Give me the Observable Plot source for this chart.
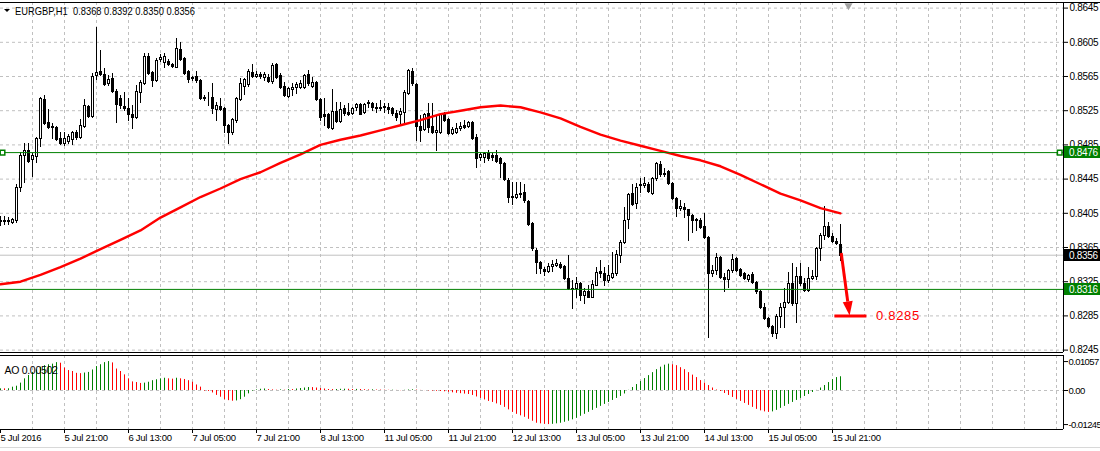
<!DOCTYPE html>
<html><head><meta charset="utf-8">
<script src="https://cdn.jsdelivr.net/npm/d3@7"></script>
<script src="https://cdn.jsdelivr.net/npm/@observablehq/plot@0.6"></script>
<style>
html,body{margin:0;padding:0;background:#fff;}
#wrap{position:relative;width:1100px;height:451px;overflow:hidden;background:#fff;}
#main{position:absolute;left:0;top:0;}
#ao{position:absolute;left:0;top:353px;}
#edge{position:absolute;left:0;top:447px;width:1100px;height:1px;background:#d8d8d8;}
svg text{letter-spacing:-0.3px;}
</style></head><body><div id="wrap"><div id="main"></div><div id="ao"></div><div id="edge"></div></div>
<script>
// ---- EURGBP H1 candles (bar index 0 = 5 Jul 2016 05:00) ----
const open = [.8395,.8397,.8395,.8394,.8397,.8435,.8473,.8479,.8468,.8471,.8493,.8538,.8511,.8506,.8505,.8493,.8487,.8489,.8491,.8500,
.8494,.8507,.8530,.8518,.8566,.8571,.8567,.8557,.8563,.8547,.8539,.8530,.8528,.8521,.8517,.8546,.8557,.8588,.8570,.8560,
.8585,.8581,.8582,.8579,.8576,.8597,.8586,.8571,.8564,.8565,.8560,.8540,.8540,.8540,.8526,.8530,.8528,.8508,.8499,.8514,
.8538,.8553,.8556,.8570,.8565,.8567,.8564,.8564,.8559,.8579,.8566,.8553,.8542,.8550,.8552,.8552,.8552,.8567,.8553,.8558,
.8538,.8521,.8521,.8504,.8524,.8512,.8528,.8523,.8522,.8529,.8532,.8523,.8533,.8533,.8528,.8529,.8530,.8529,.8528,.8522,
.8521,.8523,.8545,.8571,.8556,.8507,.8503,.8522,.8507,.8500,.8500,.8521,.8515,.8498,.8500,.8504,.8508,.8507,.8511,.8494,
.8470,.8470,.8475,.8473,.8473,.8469,.8463,.8443,.8425,.8424,.8427,.8429,.8419,.8393,.8362,.8348,.8339,.8337,.8343,.8344,
.8345,.8343,.8329,.8317,.8317,.8323,.8309,.8313,.8307,.8321,.8337,.8335,.8326,.8330,.8335,.8356,.8371,.8398,.8428,.8416,
.8437,.8437,.8439,.8428,.8446,.8462,.8452,.8454,.8440,.8422,.8411,.8412,.8409,.8403,.8398,.8397,.8390,.8377,.8335,.8338,
.8353,.8330,.8328,.8338,.8352,.8339,.8335,.8328,.8334,.8324,.8313,.8295,.8282,.8273,.8264,.8284,.8295,.8301,.8323,.8299,
.8331,.8323,.8315,.8329,.8331,.8364,.8379,.8390,.8378,.8372,.8368];
const high = [.8401,.8401,.8400,.8399,.8439,.8476,.8487,.8487,.8475,.8494,.8540,.8543,.8526,.8510,.8506,.8500,.8500,.8497,.8501,.8502,
.8515,.8538,.8531,.8568,.8622,.8595,.8574,.8566,.8568,.8550,.8543,.8546,.8539,.8531,.8554,.8560,.8592,.8592,.8571,.8586,
.8591,.8592,.8585,.8580,.8609,.8605,.8587,.8572,.8565,.8571,.8561,.8543,.8546,.8557,.8535,.8539,.8529,.8509,.8516,.8540,
.8563,.8563,.8573,.8579,.8571,.8570,.8570,.8567,.8580,.8580,.8568,.8558,.8552,.8557,.8558,.8560,.8567,.8572,.8564,.8559,
.8539,.8539,.8522,.8550,.8535,.8535,.8531,.8533,.8529,.8533,.8533,.8533,.8537,.8535,.8533,.8537,.8533,.8533,.8529,.8525,
.8528,.8549,.8573,.8574,.8557,.8519,.8522,.8533,.8533,.8519,.8522,.8523,.8516,.8505,.8510,.8511,.8514,.8512,.8512,.8497,
.8475,.8476,.8478,.8475,.8478,.8470,.8464,.8446,.8441,.8441,.8441,.8439,.8420,.8394,.8364,.8349,.8342,.8346,.8350,.8351,
.8348,.8344,.8356,.8326,.8330,.8324,.8317,.8321,.8326,.8342,.8350,.8342,.8344,.8359,.8362,.8373,.8412,.8428,.8439,.8440,
.8446,.8447,.8441,.8447,.8464,.8466,.8457,.8455,.8441,.8424,.8420,.8416,.8410,.8404,.8399,.8399,.8405,.8378,.8344,.8358,
.8354,.8335,.8339,.8357,.8353,.8341,.8336,.8334,.8336,.8325,.8315,.8299,.8283,.8274,.8287,.8299,.8317,.8336,.8346,.8342,
.8346,.8329,.8342,.8338,.8365,.8381,.8413,.8394,.8381,.8376,.8392];
const low = [.8391,.8392,.8392,.8393,.8394,.8430,.8441,.8464,.8448,.8464,.8483,.8509,.8504,.8493,.8490,.8486,.8484,.8487,.8486,.8491,
.8493,.8505,.8517,.8517,.8561,.8566,.8554,.8554,.8546,.8511,.8528,.8525,.8514,.8504,.8516,.8535,.8556,.8567,.8553,.8559,
.8582,.8576,.8578,.8576,.8575,.8584,.8567,.8558,.8560,.8558,.8538,.8537,.8531,.8522,.8514,.8525,.8500,.8487,.8497,.8511,
.8537,.8544,.8553,.8564,.8564,.8563,.8560,.8558,.8557,.8563,.8551,.8542,.8541,.8543,.8545,.8551,.8551,.8554,.8552,.8537,
.8514,.8508,.8504,.8503,.8511,.8511,.8519,.8519,.8521,.8525,.8520,.8522,.8529,.8525,.8523,.8525,.8523,.8522,.8519,.8514,
.8510,.8511,.8544,.8554,.8490,.8489,.8502,.8500,.8498,.8478,.8498,.8512,.8497,.8497,.8498,.8502,.8504,.8505,.8491,.8459,
.8467,.8464,.8467,.8467,.8464,.8447,.8443,.8418,.8415,.8422,.8424,.8418,.8391,.8362,.8335,.8335,.8332,.8336,.8337,.8343,
.8341,.8328,.8316,.8294,.8307,.8303,.8299,.8306,.8306,.8320,.8330,.8321,.8324,.8329,.8332,.8348,.8370,.8387,.8414,.8411,
.8429,.8435,.8429,.8427,.8443,.8448,.8448,.8439,.8421,.8401,.8408,.8400,.8373,.8383,.8385,.8387,.8376,.8260,.8331,.8334,
.8329,.8313,.8318,.8336,.8337,.8331,.8328,.8325,.8323,.8311,.8294,.8281,.8271,.8261,.8259,.8271,.8271,.8299,.8297,.8277,
.8321,.8313,.8314,.8327,.8327,.8350,.8374,.8377,.8371,.8369,.8350];
const close = [.8397,.8395,.8397,.8398,.8435,.8473,.8479,.8466,.8473,.8493,.8539,.8510,.8505,.8505,.8491,.8487,.8493,.8495,.8500,.8494,
.8508,.8531,.8518,.8565,.8570,.8567,.8556,.8561,.8547,.8532,.8531,.8528,.8521,.8517,.8547,.8558,.8588,.8568,.8560,.8584,
.8587,.8588,.8579,.8577,.8598,.8585,.8568,.8561,.8563,.8560,.8539,.8539,.8540,.8528,.8531,.8526,.8508,.8499,.8515,.8539,
.8557,.8561,.8571,.8565,.8567,.8565,.8567,.8559,.8578,.8564,.8552,.8543,.8551,.8552,.8556,.8557,.8566,.8557,.8558,.8538,
.8517,.8518,.8505,.8524,.8512,.8526,.8522,.8521,.8528,.8532,.8521,.8532,.8535,.8529,.8529,.8528,.8529,.8526,.8522,.8517,
.8524,.8546,.8572,.8557,.8507,.8502,.8521,.8505,.8500,.8502,.8521,.8514,.8498,.8503,.8504,.8507,.8505,.8511,.8493,.8469,
.8474,.8475,.8469,.8470,.8466,.8463,.8445,.8424,.8424,.8427,.8428,.8420,.8392,.8364,.8348,.8341,.8337,.8343,.8345,.8346,
.8342,.8329,.8317,.8316,.8323,.8309,.8314,.8307,.8322,.8336,.8335,.8326,.8332,.8335,.8357,.8371,.8397,.8427,.8415,.8435,
.8439,.8440,.8430,.8446,.8463,.8450,.8450,.8440,.8422,.8411,.8413,.8409,.8403,.8397,.8397,.8388,.8377,.8335,.8338,.8353,
.8330,.8328,.8338,.8351,.8338,.8332,.8329,.8332,.8324,.8313,.8295,.8282,.8273,.8264,.8284,.8295,.8301,.8323,.8299,.8331,
.8323,.8315,.8329,.8331,.8364,.8379,.8390,.8378,.8372,.8370,.8356];

// ---- moving average (red), sampled every 5 bars ----
const maBars = [0,5,10,15,20,25,30,35,40,45,50,55,60,65,70,75,80,85,90,95,100,105,110,115,120,125,130,135,140,145,150,155,160,165,170,175,180,185,190,195,200,205,210];
const maValues = [.8322,.8325,.8333,.8342,.8352,.8363,.8374,.8385,.8400,.8412,.8424,.8434,.8445,.8453,.8464,.8474,.8485,.8491,.8496,.8502,
.8508,.8514,.8521,.8525,.8529,.8531,.8529,.8523,.8516,.8506,.8497,.8490,.8484,.8478,.8472,.8467,.8460,.8450,.8439,.8428,.8420,.8411,.8405];

// ---- Awesome Oscillator ----
const aoValues = [.00060,.00060,.00063,.00121,.00157,.00269,.00426,.00549,.00661,.00750,.00851,.00907,.00941,.00963,.01019,.00997,.00818,.00728,.00694,.00627,
.00616,.00638,.00661,.00750,.00874,.00941,.01019,.01057,.01008,.00784,.00694,.00571,.00426,.00314,.00291,.00258,.00269,.00302,.00358,.00392,
.00426,.00448,.00426,.00414,.00448,.00426,.00403,.00358,.00302,.00202,.00123,-.00022,-.00034,-.00090,-.00179,-.00246,-.00336,-.00370,-.00392,-.00381,
-.00336,-.00246,-.00123,-.00022,.00022,.00045,.00056,.00034,.00022,.00011,.00022,.00011,.00036,.00034,.00055,.00073,.00091,.00109,.00106,.00091,
.00073,.00055,.00036,.00034,.00037,.00044,.00047,.00044,.00036,.00040,.00036,.00029,.00021,.00026,.00018,.00015,.00011,.00007,.00011,.00003,
-.00007,.00007,.00018,.00026,.00015,.00003,-.00003,-.00011,-.00021,-.00029,-.00036,-.00047,-.00065,-.00084,-.00102,-.00116,-.00131,-.00146,-.00181,-.00236,
-.00290,-.00345,-.00399,-.00436,-.00489,-.00544,-.00617,-.00708,-.00799,-.00871,-.00925,-.00980,-.01053,-.01124,-.01197,-.01218,-.01235,-.01245,-.01236,-.01218,
-.01197,-.01161,-.01124,-.01071,-.01016,-.00943,-.00871,-.00799,-.00726,-.00653,-.00580,-.00508,-.00436,-.00363,-.00290,-.00217,-.00127,.00006,.00109,.00217,
.00327,.00436,.00544,.00653,.00762,.00852,.00925,.00962,.00943,.00907,.00834,.00762,.00653,.00562,.00472,.00363,.00272,.00181,.00091,.00018,
-.00036,-.00109,-.00181,-.00254,-.00327,-.00399,-.00472,-.00544,-.00617,-.00690,-.00744,-.00781,-.00799,-.00781,-.00726,-.00653,-.00580,-.00508,-.00436,-.00363,
-.00290,-.00217,-.00146,-.00073,.00003,.00091,.00181,.00290,.00399,.00472,.00502];

// ---- axes, levels, labels ----
const priceTicks = [0.8245,0.8285,0.8325,0.8365,0.8405,0.8445,0.8485,0.8525,0.8565,0.8605,0.8645];
const aoTicks = [-0.01245, 0, 0.01057];
const gridBars = [8,16,24,32,40,48,56,64,72,80,88,96,104,112,120,128,136,144,152,160,168,176,184,192,200,208,216,224,232,240,248,256,264];
const labelBars = [0,16,32,48,64,80,96,112,128,144,160,176,192,208];
const timeLabels = ["5 Jul 2016","5 Jul 21:00","6 Jul 13:00","7 Jul 05:00","7 Jul 21:00","8 Jul 13:00","11 Jul 05:00","11 Jul 21:00","12 Jul 13:00","13 Jul 05:00","13 Jul 21:00","14 Jul 13:00","15 Jul 05:00","15 Jul 21:00"];
const levelLines = [0.8476, 0.8316];
const levelAnchorBars = [0.5, 264.8];
const bidPrice = 0.8356;
const tagPrices = [0.8476, 0.8356, 0.8316];
const titleText = "EURGBP,H1\u00a0\u00a00.8368 0.8392 0.8350 0.8356";
const aoTitle = "AO 0.00502";
const arrowFrom = {i: 210.3, p: 0.8358};
const arrowTo = {i: 212.4, p: 0.8285};
const targetPrice = 0.8285, targetFrom = 208.6, targetTo = 216.6, targetLabelBar = 219;
const shiftBar = 212;

// ---- build ----
const FONT = "'Liberation Sans', Arial, sans-serif";
const xDomain = [0, 265.75];
const mainY = [0.824219, 0.865155];
const aoY = [-0.014249, 0.012788];
const bars = open.map((o, i) => ({i, o, h: high[i], l: low[i], c: close[i]}));
const ma = maBars.map((b, k) => ({i: b, v: maValues[k]}));
const ao = aoValues.map((v, i) => ({i, v, up: i === 0 || v > aoValues[i - 1]}));
const tagColors = ["#008000", "#000000", "#008000"];

// candlesticks drawn through Plot's scales, snapped to whole pixels like the terminal
function candles(index, scales) {
  const g = d3.create("svg:g");
  for (const d of bars) {
    const cx = Math.round(scales.x(d.i));
    const yh = Math.round(scales.y(d.h)), yl = Math.round(scales.y(d.l));
    const yo = Math.round(scales.y(d.o)), yc = Math.round(scales.y(d.c));
    g.append("line").attr("x1", cx + 0.5).attr("x2", cx + 0.5).attr("y1", yh).attr("y2", yl + 1).attr("stroke", "black");
    const top = Math.min(yo, yc), bot = Math.max(yo, yc);
    g.append("rect").attr("x", cx - 0.5).attr("y", top + 0.5).attr("width", 2).attr("height", bot - top)
      .attr("fill", d.c > d.o ? "white" : "black").attr("stroke", "black");
  }
  return g.node();
}

function priceTags(index, scales, values, dims) {
  const g = d3.create("svg:g").attr("text-anchor", "start");
  const x0 = dims.width - dims.marginRight + 1;
  tagPrices.forEach((p, k) => {
    const y = Math.round(scales.y(p));
    g.append("rect").attr("x", x0).attr("y", y - 6).attr("width", dims.marginRight).attr("height", 12).attr("fill", tagColors[k]);
    g.append("text").attr("x", x0 + 5).attr("y", y).attr("dy", "0.35em").attr("fill", "white")
      .attr("font-size", 10).text(d3.format(".4f")(p));
  });
  return g.node();
}

function titleMark(index, scales, values, dims) {
  const g = d3.create("svg:g").attr("text-anchor", "start").attr("fill", "black");
  const y = dims.marginTop + 9;
  g.append("path").attr("d", `M4,${y - 2}L10,${y - 2}L7,${y + 1}Z`);
  g.append("text").attr("x", 15).attr("y", y).attr("dy", "0.35em").attr("font-size", 11)
    .attr("textLength", 180).attr("lengthAdjust", "spacingAndGlyphs").style("letter-spacing", "0px").text(titleText);
  return g.node();
}

function arrowMark(index, scales) {
  const g = d3.create("svg:g").attr("text-anchor", "start");
  const x1 = scales.x(arrowFrom.i), y1 = scales.y(arrowFrom.p);
  const x2 = scales.x(arrowTo.i), y2 = scales.y(arrowTo.p);
  const dx = x2 - x1, dy = y2 - y1, len = Math.hypot(dx, dy);
  const ux = dx / len, uy = dy / len, head = 14, half = 5;
  const bx = x2 - ux * head, by = y2 - uy * head;
  g.append("line").attr("x1", x1).attr("y1", y1).attr("x2", bx).attr("y2", by).attr("stroke", "#ff0000").attr("stroke-width", 3);
  g.append("path").attr("d", `M${x2},${y2}L${bx - uy * half},${by + ux * half}L${bx + uy * half},${by - ux * half}Z`).attr("fill", "#ff0000");
  g.append("text").attr("x", scales.x(targetLabelBar)).attr("y", scales.y(targetPrice)).attr("dy", "0.35em")
    .attr("fill", "#ff0000").attr("font-size", 13).style("letter-spacing", "0.7px").text(d3.format(".4f")(targetPrice));
  return g.node();
}

function timeTicks(index, scales, values, dims) {
  const g = d3.create("svg:g").attr("stroke", "black");
  const yb = dims.height - dims.marginBottom;
  labelBars.forEach(b => {
    const x = Math.round(scales.x(b)) + 0.5;
    g.append("line").attr("x1", x).attr("x2", x).attr("y1", yb).attr("y2", yb + 4);
  });
  return g.node();
}

const mainPlot = Plot.plot({
  width: 1100, height: 354,
  marginLeft: 0, marginRight: 37, marginTop: 2, marginBottom: 2,
  style: {fontFamily: FONT, fontSize: "10px", background: "transparent", color: "black", overflow: "visible"},
  x: {domain: xDomain, axis: null},
  y: {domain: mainY, axis: "right", ticks: priceTicks, tickFormat: d3.format(".4f"), tickSize: 4, tickPadding: 2, label: null},
  marks: [
    Plot.ruleY(priceTicks, {stroke: "#c0c0c0", strokeDasharray: "3,3"}),
    Plot.ruleX(gridBars, {stroke: "#c0c0c0", strokeDasharray: "3,3"}),
    Plot.ruleY([bidPrice], {stroke: "#c0c0c0"}),
    candles,
    Plot.line(ma, {x: "i", y: "v", stroke: "#ff0000", strokeWidth: 2.4}),
    Plot.ruleY(levelLines, {stroke: "#008000"}),
    Plot.dot(levelAnchorBars, {x: d => d, y: () => levelLines[0], symbol: "square", r: 2.6, stroke: "#008000", fill: "white"}),
    Plot.ruleY([targetPrice], {x1: targetFrom, x2: targetTo, stroke: "#ff0000", strokeWidth: 3}),
    arrowMark,
    Plot.dot([shiftBar], {x: d => d, frameAnchor: "top", symbol: "triangle", rotate: 180, r: 3, fill: "#a0a0a0", stroke: "none", dy: 3}),
    titleMark,
    Plot.ruleX([xDomain[1]], {stroke: "black"}),
    Plot.ruleY([mainY[0]], {stroke: "black"}),
    Plot.ruleY([mainY[1]], {x1: 0, x2: 275, stroke: "black"}),
    priceTags
  ]
});
document.getElementById("main").appendChild(mainPlot);

const aoPlot = Plot.plot({
  width: 1100, height: 98,
  marginLeft: 0, marginRight: 37, marginTop: 2, marginBottom: 22,
  style: {fontFamily: FONT, fontSize: "10px", background: "transparent", color: "black", overflow: "visible"},
  x: {domain: xDomain, axis: null},
  y: {domain: aoY, axis: "right", ticks: aoTicks, tickFormat: v => v === 0 ? "0.00" : v.toFixed(5), tickSize: 4, tickPadding: 1, label: null},
  marks: [
    Plot.ruleX(gridBars, {stroke: "#c0c0c0", strokeDasharray: "3,3"}),
    Plot.ruleY([0], {stroke: "#c0c0c0", strokeDasharray: "3,3"}),
    Plot.ruleX(ao, {x: "i", y1: 0, y2: "v", stroke: d => d.up ? "#008000" : "#ff0000"}),
    Plot.text([aoTitle], {frameAnchor: "top-left", dx: 4, dy: 11, textAnchor: "start", fontSize: 10.5}),
    Plot.ruleX([xDomain[1]], {stroke: "black"}),
    Plot.ruleY(aoY, {stroke: "black"}),
    timeTicks,
    Plot.text(labelBars, {x: d => d, text: (d, k) => timeLabels[k], frameAnchor: "bottom", lineAnchor: "top", dy: 5, textAnchor: "start", fontSize: 9.5})
  ]
});
document.getElementById("ao").appendChild(aoPlot);
// narrower AO scale labels so they fit like the reference
aoPlot.querySelectorAll("[aria-label='y-axis tick label'] text").forEach(t => { t.style.letterSpacing = "-0.6px"; t.setAttribute("font-size", "9.5"); });
</script></body></html>
